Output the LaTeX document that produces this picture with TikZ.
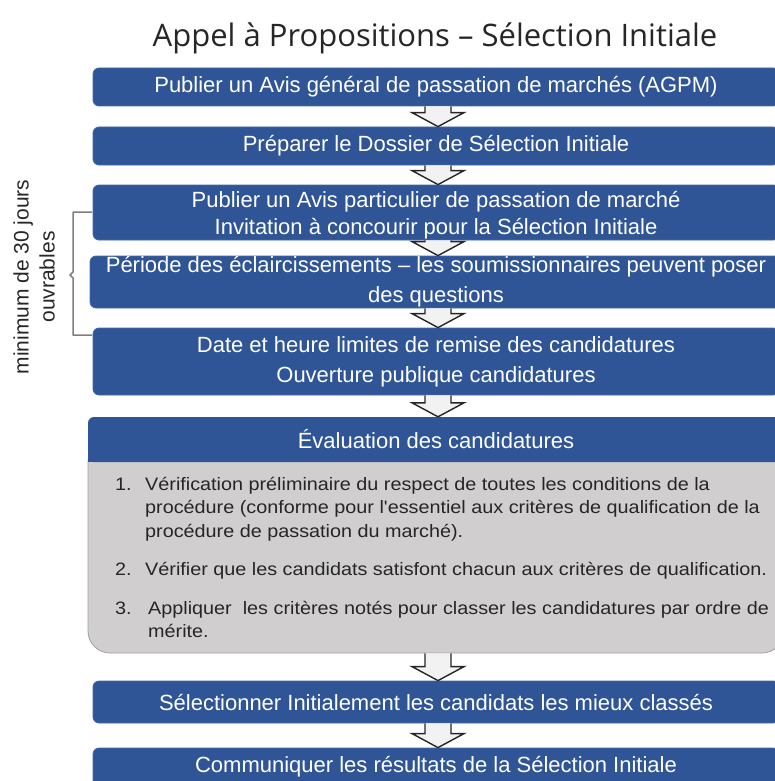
\documentclass[tikz,border=0pt]{standalone}
\usepackage{fontspec}
\setmainfont{Liberation Sans}
\newfontfamily\titlefont{Open Sans}
\newfontfamily\listfont[FakeStretch=1.1]{Liberation Sans}
\usetikzlibrary{calc}
\definecolor{boxblue}{RGB}{47,85,151}
\definecolor{boxedge}{RGB}{70,105,165}
\definecolor{graybody}{RGB}{208,206,206}
\definecolor{grayedge}{RGB}{160,160,160}
\definecolor{darktext}{RGB}{38,38,38}
\definecolor{arrowfill}{RGB}{242,242,242}
\definecolor{bracketgray}{RGB}{127,127,127}
\tikzset{
  bluebox/.style={fill=boxblue, draw=boxedge, line width=0.8pt, rounded corners=6pt,
    text=white, inner sep=0pt, align=center, minimum width=686pt},
  boxtext/.style={text=white, inner sep=0pt, align=center},
  arrowfillstyle/.style={fill=arrowfill},
  arrowline/.style={draw=darktext, line width=1.4pt, line join=miter},
}
\newcommand{\flowarr}[2]{%
  \fill[arrowfillstyle] let \p1=(#1.south), \p2=(#2.north) in
    (\x1-11pt,\y1) -- (\x1-11pt,\y2+14pt) -- (\x1-24pt,\y2+14pt) -- (\x1+2pt,\y2)
    -- (\x1+28pt,\y2+14pt) -- (\x1+15pt,\y2+14pt) -- (\x1+15pt,\y1) -- cycle;
  \draw[arrowline] let \p1=(#1.south), \p2=(#2.north) in
    (\x1-11pt,\y1) -- (\x1-11pt,\y2+14pt) -- (\x1-24pt,\y2+14pt) -- (\x1+2pt,\y2)
    -- (\x1+28pt,\y2+14pt) -- (\x1+15pt,\y2+14pt) -- (\x1+15pt,\y1);
}
\begin{document}
\begin{tikzpicture}[x=1pt,y=-1pt]
\useasboundingbox (0,0) rectangle (774,781);

% title
\node[anchor=base, text=darktext, font=\titlefont\fontsize{31}{36}\selectfont, inner sep=0pt] (title) at (435,47) {Appel à Propositions – Sélection Initiale};

% boxes
\node[bluebox, minimum height=38pt, font=\fontsize{22}{27}\selectfont] (b1) at (436,87) {Publier un Avis général de passation de marchés (AGPM)};
\node[bluebox, minimum height=38pt, font=\fontsize{22}{27}\selectfont] (b2) at (436,146) {Préparer le Dossier de Sélection Initiale};
\node[bluebox, minimum height=55pt] (b3) at (436,212.5) {};
\node[boxtext, font=\fontsize{22}{27}\selectfont] (b3t) at ([yshift=-3pt]b3.center) {Publier un Avis particulier de passation de marché\\Invitation à concourir pour la Sélection Initiale};
\node[bluebox, minimum height=52pt, minimum width=692pt, font=\fontsize{22}{30}\selectfont] (b4) at (436,282) {Période des éclaircissements – les soumissionnaires peuvent poser\\des questions};
\node[bluebox, minimum height=67pt, font=\fontsize{22}{30}\selectfont] (b5) at (436,361.5) {Date et heure limites de remise des candidatures\\Ouverture publique candidatures};

% evaluation block
\node[fill=graybody, draw=grayedge, line width=0.8pt, rounded corners=22pt, minimum width=696pt, minimum height=213pt, inner sep=0pt] (ev) at (436,546.5) {};
\node[fill=boxblue, rounded corners=6pt, minimum width=696pt, minimum height=45pt, inner sep=0pt] (evh) at (436,439.5) {};
\coordinate (hb1) at (0,450);
\coordinate (hb2) at (0,462);
\fill[boxblue] (evh.west |- hb1) rectangle (evh.east |- hb2);
\node[boxtext, font=\fontsize{22}{27}\selectfont] (evt) at (evh.center) {Évaluation des candidatures};

\node[anchor=base west, inner sep=0pt, text=darktext] (evlist) at (115,490) {\parbox[t]{655pt}{\listfont\fontsize{18}{23.5}\selectfont\setlength{\parskip}{15pt}\raggedright
\hangindent=30pt\hangafter=1\noindent\makebox[30pt][l]{1.}Vérification préliminaire du respect de toutes les conditions de la\newline procédure (conforme pour l'essentiel aux critères de qualification de la\newline procédure de passation du marché).\par
\hangindent=30pt\hangafter=1\noindent\makebox[30pt][l]{2.}Vérifier que les candidats satisfont chacun aux critères de qualification.\par
\hangindent=33pt\hangafter=1\noindent\makebox[33pt][l]{3.}Appliquer\ \ les critères notés pour classer les candidatures par ordre de\newline mérite.\par}};

\node[bluebox, minimum height=42pt, font=\fontsize{22}{27}\selectfont] (b7) at (436,702) {Sélectionner Initialement les candidats les mieux classés};
\node[bluebox, minimum height=38pt, font=\fontsize{22}{27}\selectfont] (b8) at (436,767) {Communiquer les résultats de la Sélection Initiale};

% arrows
\flowarr{b1}{b2}
\flowarr{b2}{b3}
\flowarr{b3}{b4}
\flowarr{b4}{b5}
\flowarr{b5}{evh}
\flowarr{ev}{b7}
\flowarr{b7}{b8}

% bracket
\coordinate (brt) at (92,212);
\coordinate (brb) at (92,335);
\draw[bracketgray, line width=1.5pt, line join=round]
  (brt) -- (73,212) -- (73,272) -- (70,275) -- (73,278) -- (73,335) -- (brb);
\node[rotate=90, align=center, text=darktext, font=\fontsize{21}{26}\selectfont, inner sep=0pt] (lbl) at (34,277) {minimum de 30 jours\\ouvrables};
\end{tikzpicture}
\end{document}
